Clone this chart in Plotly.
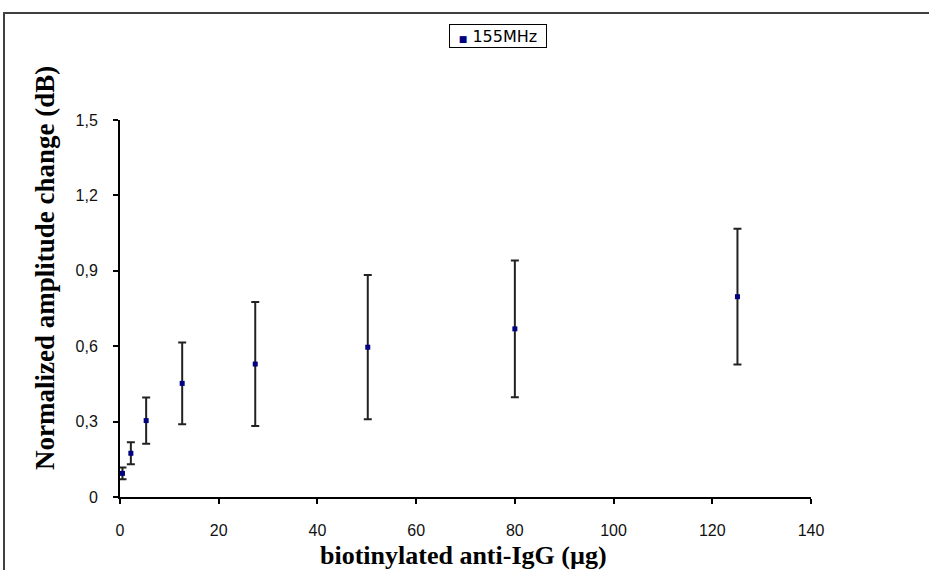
import plotly.graph_objects as go

# Amount of biotinylated anti-IgG (µg) and normalized amplitude change (dB) at 155 MHz
igg_ug = [0.5, 2.2, 5.3, 12.6, 27.4, 50.2, 80.0, 125.1]
amp_db = [0.094, 0.174, 0.304, 0.452, 0.529, 0.596, 0.669, 0.797]
amp_err = [0.023, 0.044, 0.092, 0.163, 0.247, 0.287, 0.272, 0.270]
series_name = "155MHz"

x_ticks = [0, 20, 40, 60, 80, 100, 120, 140]
y_ticks = [0, 0.3, 0.6, 0.9, 1.2, 1.5]
y_tick_text = ["0", "0,3", "0,6", "0,9", "1,2", "1,5"]

W, H = 929, 570
L, R, T, B = 120, 118, 120, 73
pw, ph = W - L - R, H - T - B


def px_x(p):
    return (p - L) / pw


def px_y(p):
    return (T + ph - p) / ph


tick_font = dict(family="Liberation Sans, Arial, sans-serif", size=16, color="#111111")
x_title_font = dict(family="Liberation Serif, Times New Roman, serif", size=26, color="#000000")
y_title_font = dict(family="Liberation Serif, Times New Roman, serif", size=27, color="#000000")
marker_color = "#000080"

fig = go.Figure()
fig.add_trace(go.Scatter(
    x=igg_ug, y=amp_db, mode="markers", name=series_name, showlegend=False,
    marker=dict(symbol="square", size=5, color=marker_color),
    error_y=dict(type="data", array=amp_err, visible=True,
                 color="#222222", thickness=2, width=4),
))

# outer chart frame
fig.add_shape(type="rect", xref="paper", yref="paper",
              x0=px_x(4), x1=px_x(W + 10), y0=px_y(H + 10), y1=px_y(13),
              line=dict(color="#404040", width=2), layer="below")

# boxed series key
fig.add_annotation(
    xref="paper", yref="paper", x=px_x(498), y=px_y(35.5),
    xanchor="center", yanchor="middle", showarrow=False,
    width=94, height=20, align="center", borderpad=1,
    bordercolor="#000000", borderwidth=1, bgcolor="white",
    text=f"<span style='color:{marker_color};font-size:9px'>■</span> {series_name}",
    font=dict(family="DejaVu Sans, sans-serif", size=16, color="#000000"),
)

# axis titles placed on the chart area
fig.add_annotation(
    xref="paper", yref="paper", x=px_x(45), y=px_y(268),
    xanchor="center", yanchor="middle", showarrow=False, textangle=-90,
    text="<b>Normalized amplitude change (dB)</b>", font=y_title_font,
)
fig.add_annotation(
    xref="paper", yref="paper", x=px_x(463), y=px_y(555),
    xanchor="center", yanchor="middle", showarrow=False,
    text="<b>biotinylated anti-IgG (µg)</b>", font=x_title_font,
)

fig.update_layout(
    width=W, height=H,
    margin=dict(l=L, r=R, t=T, b=B, pad=0, autoexpand=False),
    paper_bgcolor="white", plot_bgcolor="white",
    separators=", ",
    showlegend=False,
    xaxis=dict(range=[0, 140], tickvals=x_ticks, showgrid=False, zeroline=False,
               showline=True, linecolor="#000000", linewidth=2, automargin=False,
               ticks="outside", ticklen=5, tickwidth=1.5, tickcolor="#000000",
               tickfont=tick_font, ticklabelstandoff=13),
    yaxis=dict(range=[0, 1.5], tickvals=y_ticks, ticktext=y_tick_text, showgrid=False,
               zeroline=False, showline=True, linecolor="#000000", linewidth=2, automargin=False,
               ticks="outside", ticklen=5, tickwidth=1.5, tickcolor="#000000",
               tickfont=tick_font, ticklabelstandoff=12),
)

fig.write_html("out.html")
